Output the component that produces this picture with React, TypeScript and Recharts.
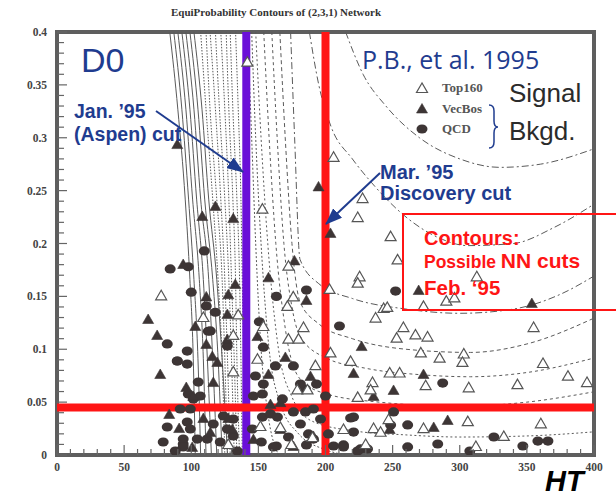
import React from 'react';
import { ComposedChart, XAxis, YAxis, Scatter, Line, ReferenceLine, ReferenceArea } from 'recharts';

// ---- axis ticks ----
const X_MAJOR = [0, 50, 100, 150, 200, 250, 300, 350, 400];
const X_MINOR = [10, 20, 30, 40, 60, 70, 80, 90, 110, 120, 130, 140, 160, 170, 180, 190, 210, 220, 230, 240, 260, 270, 280, 290, 310, 320, 330, 340, 360, 370, 380, 390];
const Y_MAJOR = [0, 0.05, 0.1, 0.15, 0.2, 0.25, 0.3, 0.35, 0.4];
const Y_MINOR = [0.01, 0.02, 0.03, 0.04, 0.06, 0.07, 0.08, 0.09, 0.11, 0.12, 0.13, 0.14, 0.16, 0.17, 0.18, 0.19, 0.21, 0.22, 0.23, 0.24, 0.26, 0.27, 0.28, 0.29, 0.31, 0.32, 0.33, 0.34, 0.36, 0.37, 0.38, 0.39];

// ---- cuts ----
const CUT_JAN_HT = 141;
const CUT_MAR_HT = 200;
const CUT_MAR_A = 0.045;

// ---- scatter data [HT, A] ----
const TOP160: number[][] = [
  [141.8, 0.372], [206, 0.282], [153, 0.233], [227.6, 0.243], [224, 0.225], [248.5, 0.207], [253.7, 0.185], [312.7, 0.169],
  [243.3, 0.139], [273, 0.141], [290, 0.146], [296, 0.149], [225.4, 0.169], [224, 0.163], [246, 0.14], [237.3, 0.13],
  [258, 0.121], [267, 0.114], [276, 0.112], [253, 0.111], [355, 0.121], [271, 0.097], [285, 0.092], [303, 0.096],
  [302, 0.088], [362, 0.087], [343, 0.067], [380.6, 0.075], [394.8, 0.069], [306.7, 0.064], [274.6, 0.066], [247.8, 0.078],
  [255.2, 0.078], [235, 0.069], [233.6, 0.062], [224, 0.055], [203.7, 0.097], [192.5, 0.085], [183.6, 0.121], [203, 0.157],
  [306, 0.032], [360.4, 0.03], [332.8, 0.018], [312, 0.0085], [273, 0.0255], [235.8, 0.0255], [247, 0.034], [241, 0.022],
  [131.3, 0.1135], [172.4, 0.11], [179.9, 0.11], [149.3, 0.091], [218.7, 0.089], [131.3, 0.079], [179, 0.062], [186.6, 0.062],
  [166.4, 0.0265], [190.3, 0.017], [213.4, 0.0246], [151.5, 0.0274], [229.9, 0.0104], [127.6, 0.0104], [77.6, 0.151],
  [172.4, 0.179], [176, 0.15], [171.6, 0.141], [109, 0.1305], [135, 0.133], [153.7, 0.122], [174.6, 0.0104],
];
const VECBOS: number[][] = [
  [89.6, 0.294], [194.8, 0.254], [203.7, 0.21], [118, 0.2355], [108.2, 0.226], [131.3, 0.224], [185.8, 0.1466], [269.4, 0.156],
  [353.7, 0.1437], [226.9, 0.103], [188.8, 0.0747], [220.9, 0.0775], [273, 0.0766], [250.7, 0.0615], [235.8, 0.0558], [291, 0.0331],
  [280.6, 0.0265], [247.8, 0.0246], [74.6, 0.1135], [76.9, 0.0766], [96.3, 0.0643], [111.2, 0.105], [119.4, 0.088], [126.9, 0.1097],
  [149.3, 0.1125], [157.5, 0.0766], [170.1, 0.0927], [83.6, 0.0388], [91, 0.0255], [109, 0.035], [127.6, 0.035], [101.5, 0.0558],
  [116.4, 0.069], [146.3, 0.0151], [166.4, 0.0246], [176.1, 0.0085], [191, 0.018], [114.2, 0.0217], [130.6, 0.0246], [100.7, 0.0076],
  [159, 0.0482], [166.4, 0.05], [115.7, 0.0936], [67.9, 0.1286], [94, 0.1806], [103, 0.122], [111.2, 0.15], [127.6, 0.152],
  [132.8, 0.1617], [126.9, 0.1333], [157.5, 0.168], [176.9, 0.184],
];
const QCD: number[][] = [
  [185.8, 0.156], [252.2, 0.155], [210.4, 0.122], [287.3, 0.068], [193.3, 0.0671], [185.1, 0.0624], [218.7, 0.035], [220.9, 0.0217],
  [248.5, 0.0284], [261.2, 0.0284], [250.7, 0.0407], [325.4, 0.017], [283.6, 0.0104], [261.2, 0.0076], [347, 0.0085], [358.2, 0.0132],
  [365.7, 0.0132], [191, 0.0151], [206, 0.0085], [226.1, 0.0057], [231.3, 0.0057], [185.1, 0.0407], [187.3, 0.0199],
  [94, 0.0104], [134.3, 0.0038], [152.2, 0.0123], [163.4, 0.0085], [185.8, 0.0095], [213.4, 0.0095], [307.5, 0.0038],
  [82.1, 0.105], [97, 0.0983], [89.6, 0.0889], [97, 0.086], [105.2, 0.069], [126.9, 0.103], [114.2, 0.1173], [147.8, 0.0747],
  [153.7, 0.0671], [162.7, 0.0842], [176.1, 0.0842], [181.3, 0.0671], [167.9, 0.053], [153, 0.0577], [146.3, 0.0558], [101.5, 0.053],
  [99.3, 0.0435], [106.7, 0.0558], [123.9, 0.0369], [131.3, 0.034], [153, 0.0359], [159, 0.0388], [164.2, 0.0359], [82.1, 0.0265],
  [97, 0.0312], [99.3, 0.0246], [94, 0.0151], [94, 0.0076], [104.5, 0.0151], [111.9, 0.0151], [121.6, 0.0123], [131.3, 0.018],
  [145.5, 0.0246], [161.2, 0.0076], [172.4, 0.017], [181.3, 0.0293], [196.3, 0.034], [202.2, 0.0199], [213.4, 0.0076], [223.9, 0.0038],
  [200, 0.0558], [191, 0.0435], [176.1, 0.0407], [220.9, 0.0359], [116.4, 0.0293], [126.9, 0.0246], [88.1, 0.0038], [79.1, 0.0123],
  [91.8, 0.0435], [97.8, 0.0577], [84.3, 0.176], [97.8, 0.178], [100, 0.154], [109.7, 0.193], [111.2, 0.141], [117.9, 0.135],
  [112.7, 0.117], [150.7, 0.126], [153.7, 0.102], [163.4, 0.15], [89.6, 0.0889],
];

// ---- contour lines ----
const STEEP_A = [0.4, 0.327, 0.242, 0.166, 0.091, 0];
const SOLID_HT: number[][] = [
  [84, 90, 95.5, 99, 101.5, 103],
  [87, 93, 98, 102, 105, 107],
  [90, 96, 101, 106, 109, 111],
  [93, 99, 104, 109, 112, 115],
  [96, 102, 107, 113, 116, 119],
  [99, 105, 110, 116, 120, 123],
  [102, 108, 113, 119, 123, 127],
];
const DOTTED_HT: number[][] = [
  [107, 111, 116, 120, 123, 125],
  [111, 114, 119, 123, 125, 127],
  [114, 118, 122, 125, 127, 129],
  [118, 121, 125, 128, 130, 132],
  [122, 125, 128, 130, 132, 134],
  [126, 128, 131, 133, 134, 136],
  [129, 131, 134, 136, 137, 138],
  [133, 135, 137, 138, 139, 140],
];
const U8 = [[142, 0.4], [145, 0.3], [148, 0.2], [152, 0.1], [157, 0.04], [165, 0]];
const U7 = [[145, 0.4], [148, 0.3], [152, 0.2], [158, 0.1], [166, 0.05], [180, 0.02], [200, 0.005], [215, 0]];
const U6 = [[148, 0.4], [152, 0.3], [157, 0.2], [165, 0.1], [175, 0.055], [190, 0.032], [220, 0.023], [260, 0.019], [300, 0.017], [350, 0.018], [401, 0.022]];
const U5 = [[154, 0.4], [158, 0.3], [163, 0.2], [170, 0.12], [181, 0.072], [200, 0.058], [240, 0.05], [300, 0.046], [350, 0.05], [401, 0.06]];
const U4 = [[160, 0.4], [164, 0.3], [169, 0.2], [175, 0.14], [181, 0.1125], [200, 0.092], [230, 0.082], [270, 0.076], [308, 0.074], [350, 0.078], [401, 0.092]];
const U3 = [[166, 0.4], [170, 0.3], [175, 0.2], [181, 0.145], [195, 0.124], [220, 0.11], [260, 0.1], [308, 0.097], [350, 0.105], [401, 0.13]];
const U2 = [[174, 0.4], [177, 0.3], [181, 0.185], [195, 0.162], [220, 0.148], [260, 0.138], [300, 0.134], [340, 0.138], [375, 0.152], [401, 0.17]];
const U1 = [[188, 0.4], [195, 0.35], [204, 0.311], [220, 0.28], [234, 0.258], [260, 0.225], [285, 0.205], [306, 0.198], [340, 0.2], [370, 0.215], [401, 0.238]];
const U0 = [[215, 0.4], [228, 0.36], [245, 0.33], [270, 0.3], [300, 0.28], [330, 0.272], [360, 0.275], [401, 0.29]];

const toPts = (arr: number[][]) => arr.map(([x, y]) => ({ x, y }));
const steep = (hts: number[]) => hts.map((x, i) => ({ x, y: STEEP_A[i] }));

const contours: { pts: { x: number; y: number }[]; dash?: string }[] = [
  ...SOLID_HT.map((h) => ({ pts: steep(h) })),
  ...DOTTED_HT.map((h) => ({ pts: steep(h), dash: '1.5 1.5' })),
  { pts: toPts(U8), dash: '2 2' },
  { pts: toPts(U7), dash: '2 2' },
  { pts: toPts(U6), dash: '2 2.5' },
  { pts: toPts(U5), dash: '3 3' },
  { pts: toPts(U4), dash: '3 3' },
  { pts: toPts(U3), dash: '4 3' },
  { pts: toPts(U2), dash: '7 3 2 3' },
  { pts: toPts(U1), dash: '7 3 2 3' },
  { pts: toPts(U0), dash: '7 3 2 3' },
];

const SERIF = "'Liberation Serif', 'DejaVu Serif', serif";
const SANS = "'Liberation Sans', Arial, sans-serif";
const TICK_COLOR = '#444';

const YTick = (props: any) => {
  const { x, y, payload } = props;
  const v = payload.value;
  const major = Y_MAJOR.includes(v);
  return (
    <g>
      <line x1={x} x2={x + (major ? 10 : 7)} y1={y} y2={y} stroke="#666" strokeWidth={1.2} />
      {major && (
        <text x={x - 10} y={y + 4} textAnchor="end" fontFamily={SERIF} fontWeight="bold" fontSize={11.5} fill={TICK_COLOR}>
          {String(v)}
        </text>
      )}
    </g>
  );
};

const XTick = (props: any) => {
  const { x, y, payload } = props;
  const v = payload.value;
  const major = X_MAJOR.includes(v);
  return (
    <g>
      <line x1={x} x2={x} y1={y} y2={y - (major ? 10 : 6)} stroke="#666" strokeWidth={1.2} />
      {major && (
        <text x={x} y={y + 16} textAnchor="middle" fontFamily={SERIF} fontWeight="bold" fontSize={11.5} fill={TICK_COLOR}>
          {String(v)}
        </text>
      )}
    </g>
  );
};

const OpenTri = (p: any) => (
  <polygon points={`${p.cx},${p.cy - 5} ${p.cx - 5.5},${p.cy + 4.5} ${p.cx + 5.5},${p.cy + 4.5}`} fill="#fff" stroke="#555" strokeWidth={1.2} />
);
const FilledTri = (p: any) => (
  <polygon points={`${p.cx},${p.cy - 5} ${p.cx - 5.5},${p.cy + 4.5} ${p.cx + 5.5},${p.cy + 4.5}`} fill="#3d3535" stroke="#3d3535" strokeWidth={0.6} />
);
const Blob = (p: any) => <ellipse cx={p.cx} cy={p.cy} rx={5.5} ry={4.6} fill="#3d3535" />;

const LEGEND = [
  { name: 'Top160', shape: OpenTri },
  { name: 'VecBos', shape: FilledTri },
  { name: 'QCD', shape: Blob },
];

const BLUE = '#1f3c8f';
const RED = '#ff1515';

export default function App() {
  const yTicks = [...Y_MAJOR, ...Y_MINOR].sort((a, b) => a - b);
  const xTicks = [...X_MAJOR, ...X_MINOR].sort((a, b) => a - b);
  return (
    <div style={{ position: 'absolute', left: 0, top: 0, width: 616, height: 496, background: '#fff', overflow: 'hidden' }}>
      <ComposedChart width={616} height={496} margin={{ top: 32, right: 22, bottom: 0, left: 0 }}>
        <XAxis type="number" dataKey="x" domain={[0, 400]} ticks={xTicks} interval={0} tick={XTick} tickSize={0} tickMargin={0}
          axisLine={false} tickLine={false} height={41} allowDataOverflow />
        <YAxis type="number" dataKey="y" domain={[0, 0.4]} ticks={yTicks} interval={0} tick={YTick} tickSize={0} tickMargin={0}
          axisLine={false} tickLine={false} width={57} allowDataOverflow />
        {contours.map((c, i) => (
          <Line key={'c' + i} data={c.pts} dataKey="y" type="monotone" dot={false} activeDot={false} stroke="#5a5a5a"
            strokeWidth={1} strokeDasharray={c.dash} isAnimationActive={false} legendType="none" />
        ))}
        <Scatter name="QCD" data={toPts(QCD)} shape={Blob} isAnimationActive={false} />
        <Scatter name="VecBos" data={toPts(VECBOS)} shape={FilledTri} isAnimationActive={false} />
        <Scatter name="Top160" data={toPts(TOP160)} shape={OpenTri} isAnimationActive={false} />
        <ReferenceArea x1={0} x2={400} y1={0} y2={0.4} fill="none" stroke="#5e5e5e" strokeWidth={4} ifOverflow="visible" />
        <ReferenceLine x={CUT_JAN_HT} stroke="#6a0fd8" strokeWidth={8} />
        <ReferenceLine x={CUT_MAR_HT} stroke={RED} strokeWidth={8} />
        <ReferenceLine y={CUT_MAR_A} stroke={RED} strokeWidth={8} />
      </ComposedChart>
      <svg width={616} height={496} style={{ position: 'absolute', left: 0, top: 0, pointerEvents: 'none' }}>
        <defs>
          <marker id="ah" markerWidth={17} markerHeight={13} refX={16} refY={6.5} orient="auto" markerUnits="userSpaceOnUse">
            <path d="M0,0 L17,6.5 L0,13 z" fill={BLUE} />
          </marker>
        </defs>
        <text x={276} y={16} textAnchor="middle" fontFamily={SERIF} fontWeight="bold" fontSize={11} fill="#333">
          EquiProbability Contours of (2,3,1) Network
        </text>
        <text x={81} y={72} fontFamily={SANS} fontSize={34} fill={BLUE}>D0</text>
        <text x={362} y={69} fontFamily="'Open Sans', sans-serif" fontSize={25} fill={BLUE}>P.B., et al. 1995</text>
        {LEGEND.map((l, i) => {
          const Shape = l.shape;
          const cy = 88 + i * 20.5;
          return (
            <g key={l.name}>
              <Shape cx={422} cy={cy} />
              <text x={442} y={cy + 4} fontFamily={SERIF} fontWeight="bold" fontSize={13} fill="#555">{l.name}</text>
            </g>
          );
        })}
        <text x={509} y={102} fontFamily={SANS} fontSize={26} fill="#2b2b2b">Signal</text>
        <text x={509} y={140} fontFamily={SANS} fontSize={26} fill="#2b2b2b">Bkgd.</text>
        <path d="M489,105 Q494,105 494,111 L494,121 Q494,127 498,127 Q494,127 494,133 L494,142 Q494,148 489,148" stroke={BLUE} fill="none" strokeWidth={1.5} />
        <text x={74} y={118} fontFamily={SANS} fontWeight="bold" fontSize={19.5} fill={BLUE}>Jan. ’95</text>
        <text x={74} y={141} fontFamily={SANS} fontWeight="bold" fontSize={19.5} fill={BLUE}>(Aspen) cut</text>
        <line x1={156} y1={111} x2={243} y2={172} stroke={BLUE} strokeWidth={2} markerEnd="url(#ah)" />
        <text x={380} y={179} fontFamily={SANS} fontWeight="bold" fontSize={20} fill={BLUE}>Mar. ’95</text>
        <text x={380} y={200} fontFamily={SANS} fontWeight="bold" fontSize={20} fill={BLUE}>Discovery cut</text>
        <line x1={380} y1={173} x2={326} y2={224} stroke={BLUE} strokeWidth={2} markerEnd="url(#ah)" />
        <rect x={403} y={214} width={230} height={96} fill="none" stroke={RED} strokeWidth={2} />
        <text x={424} y={245} fontFamily={SANS} fontWeight="bold" fontSize={20} fill={RED}>Contours:</text>
        <text x={424} y={268} fontFamily={SANS} fontWeight="bold" fill={RED}>
          <tspan fontSize={17.5}>Possible </tspan>
          <tspan fontSize={21}>NN cuts</tspan>
        </text>
        <text x={424} y={295} fontFamily={SANS} fontWeight="bold" fontSize={20.5} fill={RED}>Feb. ‘95</text>
        <text x={545} y={491} fontFamily={SANS} fontWeight="bold" fontStyle="italic" fontSize={29} fill="#000">HT</text>
      </svg>
    </div>
  );
}
